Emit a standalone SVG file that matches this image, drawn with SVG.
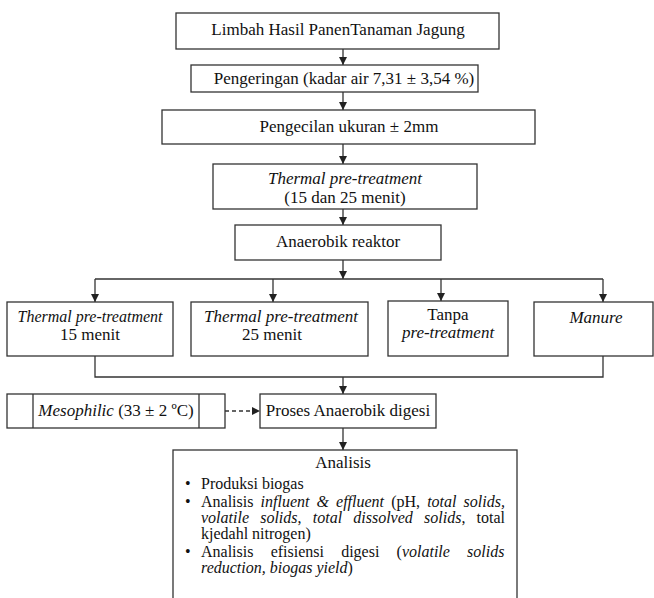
<svg xmlns="http://www.w3.org/2000/svg" width="654" height="598" viewBox="0 0 654 598">
<defs>
<marker id="ah" markerUnits="userSpaceOnUse" markerWidth="9" markerHeight="9" refX="8" refY="4" orient="auto">
<path d="M0,0 L8,4 L0,8 z" fill="#222"/>
</marker>
<style>
.box{fill:#fff;stroke:#333;stroke-width:1.3}
.ln{fill:none;stroke:#333;stroke-width:1.3}
.ar{fill:none;stroke:#333;stroke-width:1.3;marker-end:url(#ah)}
.t{font-family:"Liberation Serif","Times New Roman",serif;font-size:17px;fill:#111}
.c{text-anchor:middle}
.i{font-style:italic}
.s{font-size:16px}
</style>
</defs>
<rect x="0" y="0" width="654" height="598" fill="#fff"/>
<g id="connectors">
<line class="ar" x1="343" y1="49" x2="343" y2="65"/>
<line class="ar" x1="343" y1="92" x2="343" y2="110"/>
<line class="ar" x1="343" y1="144" x2="343" y2="164"/>
<line class="ar" x1="343" y1="209" x2="343" y2="225"/>
<line class="ar" x1="343" y1="260" x2="343" y2="279"/>
<line class="ln" x1="95" y1="279" x2="603" y2="279"/>
<line class="ar" x1="95" y1="279" x2="95" y2="302"/>
<line class="ar" x1="273" y1="279" x2="273" y2="302"/>
<line class="ar" x1="441" y1="279" x2="441" y2="301"/>
<line class="ar" x1="603" y1="279" x2="603" y2="302"/>
<polyline class="ln" points="95,356 95,377 603,377 603,356"/>
<line class="ar" x1="343" y1="377" x2="343" y2="394"/>
<line class="ar" x1="225" y1="411" x2="260" y2="411" stroke-dasharray="4,3"/>
<line class="ar" x1="343" y1="428" x2="343" y2="450"/>
</g>
<g id="limbah">
<rect class="box" x="176" y="13" width="323" height="36"/>
<text class="t c" x="338" y="35">Limbah Hasil PanenTanaman Jagung</text>
</g>
<g id="pengeringan">
<rect class="box" x="191" y="65" width="287" height="27"/>
<text class="t c" x="344" y="84">Pengeringan (kadar air 7,31 ± 3,54 %)</text>
</g>
<g id="pengecilan">
<rect class="box" x="162" y="110" width="373" height="34"/>
<text class="t c" x="349" y="132">Pengecilan ukuran ± 2mm</text>
</g>
<g id="thermal">
<rect class="box" x="213" y="164" width="264" height="45"/>
<text class="t c i" x="345" y="184">Thermal pre-treatment</text>
<text class="t c" x="345" y="203">(15 dan 25 menit)</text>
</g>
<g id="reaktor">
<rect class="box" x="235" y="225" width="206" height="35"/>
<text class="t c" x="338" y="247">Anaerobik reaktor</text>
</g>
<g id="tpt15">
<rect class="box" x="7" y="302" width="166" height="54"/>
<text class="t c i" x="90" y="322" style="font-size:16px">Thermal pre-treatment</text>
<text class="t c" x="90" y="340">15 menit</text>
</g>
<g id="tpt25">
<rect class="box" x="191" y="302" width="177" height="54"/>
<text class="t c i" x="281" y="322">Thermal pre-treatment</text>
<text class="t c" x="272" y="340">25 menit</text>
</g>
<g id="tanpa">
<rect class="box" x="388" y="301" width="120" height="55"/>
<text class="t c" x="448" y="320">Tanpa</text>
<text class="t c i" x="448" y="338">pre-treatment</text>
</g>
<g id="manure">
<rect class="box" x="534" y="302" width="119" height="54"/>
<text class="t c i" x="596" y="323">Manure</text>
</g>
<g id="mesophilic">
<rect class="box" x="7" y="394" width="218" height="34"/>
<line class="ln" x1="33" y1="394" x2="33" y2="428"/>
<line class="ln" x1="199" y1="394" x2="199" y2="428"/>
<text class="t c" x="116" y="416"><tspan class="i">Mesophilic</tspan> (33 ± 2 ºC)</text>
</g>
<g id="proses">
<rect class="box" x="260" y="394" width="176" height="34"/>
<text class="t c" x="348" y="416">Proses Anaerobik digesi</text>
</g>
<g id="analisis">
<rect class="box" x="173" y="450" width="344" height="152"/>
<text class="t c" x="343" y="468">Analisis</text>
<text class="t s" x="185" y="489">•</text>
<text class="t s" x="201" y="489">Produksi biogas</text>
<text class="t s" x="185" y="507">•</text>
<text class="t s" x="201" y="507" style="word-spacing:3.1px">Analisis <tspan class="i">influent &amp; effluent</tspan> (pH, <tspan class="i">total solids,</tspan></text>
<text class="t s" x="201" y="523" style="word-spacing:7.2px"><tspan class="i">volatile solids</tspan>, <tspan class="i">total dissolved solids</tspan>, total</text>
<text class="t s" x="201" y="539">kjedahl nitrogen)</text>
<text class="t s" x="185" y="557">•</text>
<text class="t s" x="201" y="557" style="word-spacing:13.2px">Analisis efisiensi digesi (<tspan class="i">volatile solids</tspan></text>
<text class="t s" x="201" y="573"><tspan class="i">reduction, biogas yield</tspan>)</text>
</g>
</svg>
